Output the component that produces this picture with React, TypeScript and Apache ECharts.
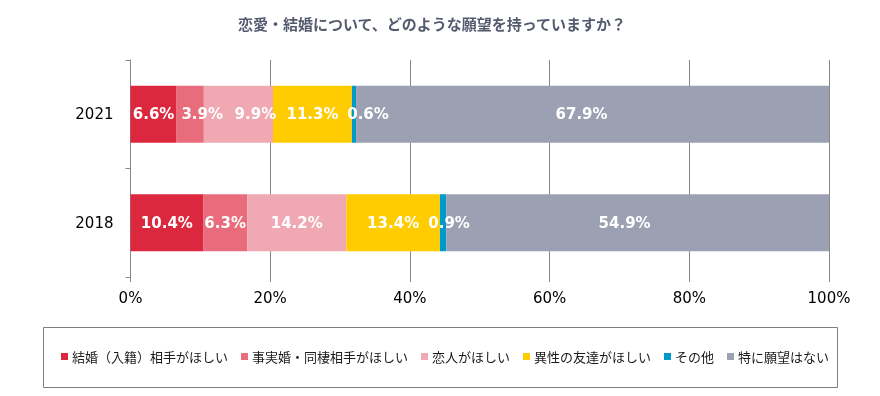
import React, { useEffect, useRef } from "react";
import * as echarts from "echarts";

const titleText = "恋愛・結婚について、どのような願望を持っていますか？";
const years = ["2018", "2021"];
const seriesNames = [
  "結婚（入籍）相手がほしい",
  "事実婚・同棲相手がほしい",
  "恋人がほしい",
  "異性の友達がほしい",
  "その他",
  "特に願望はない",
];
// values per series: [2018, 2021]
const marriage = [10.4, 6.6];
const commonLaw = [6.3, 3.9];
const lover = [14.2, 9.9];
const friend = [13.4, 11.3];
const other = [0.9, 0.6];
const none = [54.9, 67.9];
const xTicks = [0, 20, 40, 60, 80, 100];

const colors = ["#DC283E", "#E86C7B", "#F0A8B2", "#FFCC00", "#0099CC", "#9BA0B2"];
// label horizontal offsets [2018, 2021]
const labelOffsets = [
  [0, 0],
  [0, 12],
  [0, 17],
  [0, 0],
  [6, 14],
  [-13, -11],
];

export default function App() {
  const ref = useRef<HTMLDivElement>(null);
  useEffect(() => {
    if (!ref.current) return;
    const chart = echarts.init(ref.current, undefined, { renderer: "svg" });
    const allValues = [marriage, commonLaw, lover, friend, other, none];
    const series = allValues.map((vals, si) => ({
      name: seriesNames[si],
      type: "bar",
      stack: "total",
      barWidth: 57,
      itemStyle: { color: colors[si] },
      data: vals.map((v, i) => ({
        value: v,
        label: { offset: [labelOffsets[si][i], 0] },
      })),
      label: {
        show: true,
        position: "inside",
        color: "#FFFFFF",
        fontFamily: "DejaVu Sans",
        fontWeight: "bold",
        fontSize: 15,
        formatter: (p: any) => `${p.value.toFixed(1)}%`,
      },
    }));
    chart.setOption({
      animation: false,
      title: {
        text: titleText,
        left: 238,
        top: 16,
        padding: 0,
        textStyle: {
          fontFamily: "Noto Sans CJK JP",
          fontWeight: "bold",
          fontSize: 15,
          color: "#555B6E",
        },
      },
      graphic: [
        {
          type: "rect",
          shape: { x: 43.5, y: 327.5, width: 794, height: 60 },
          style: { fill: "none", stroke: "#808080", lineWidth: 1 },
        },
      ],
      legend: {
        left: 61,
        top: 350,
        padding: 0,
        itemWidth: 7,
        itemHeight: 7,
        itemGap: 13,
        icon: "rect",
        textStyle: {
          fontFamily: "Noto Sans CJK JP",
          fontSize: 13,
          color: "#1A1A1A",
          padding: [0, 0, 0, -1],
        },
        data: seriesNames,
      },
      grid: { left: 130.5, right: 51, top: 60, height: 217 },
      xAxis: {
        type: "value",
        min: 0,
        max: 100,
        interval: 20,
        axisLine: { show: false },
        axisTick: { show: true, length: 5, lineStyle: { color: "#888888" } },
        splitLine: { show: true, lineStyle: { color: "#888888", width: 1 } },
        axisLabel: {
          formatter: (v: number) => (xTicks.includes(v) ? `${v}%` : ""),
          fontFamily: "DejaVu Sans",
          fontSize: 15,
          color: "#000000",
          margin: 13,
        },
      },
      yAxis: {
        type: "category",
        data: years,
        axisLine: { show: true, lineStyle: { color: "#888888" } },
        axisTick: { show: true, length: 5, lineStyle: { color: "#888888" } },
        axisLabel: {
          fontFamily: "DejaVu Sans",
          fontSize: 15,
          color: "#000000",
          margin: 17,
        },
      },
      series,
    });
    return () => chart.dispose();
  }, []);
  return (
    <div
      ref={ref}
      style={{ position: "fixed", left: 0, top: 0, width: 880, height: 396 }}
    />
  );
}
